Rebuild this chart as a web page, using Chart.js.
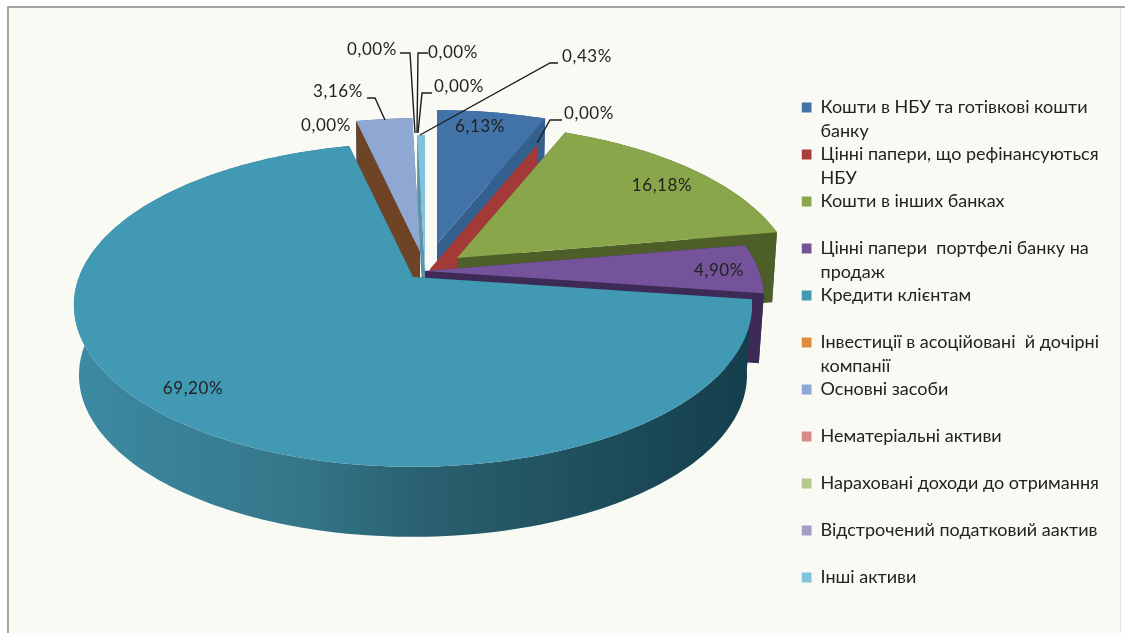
<!DOCTYPE html>
<html lang="uk">
<head>
<meta charset="UTF-8">
<title>Структура активів банку</title>
<script src="https://cdn.jsdelivr.net/npm/chart.js"></script>
<style>
    html, body { margin: 0; padding: 0; background: #fff; }
    canvas { display: block; }
</style>
</head>
<body>
<canvas id="assetsChart" width="1125" height="633"></canvas>
<script>
// chart data
var categories = [
    ['Кошти в НБУ та готівкові кошти', 'банку'],
    ['Цінні папери, що рефінансуються', 'НБУ'],
    ['Кошти в інших банках', ' '],
    ['Цінні папери  портфелі банку на', 'продаж'],
    ['Кредити клієнтам', ' '],
    ['Інвестиції в асоційовані  й дочірні', 'компанії'],
    ['Основні засоби', ' '],
    ['Нематеріальні активи', ' '],
    ['Нараховані доходи до отримання', ' '],
    ['Відстрочений податковий аактив', ' '],
    ['Інші активи', ' ']
];
var values = [6.13, 0.00, 16.18, 4.90, 69.20, 0.00, 3.16, 0.00, 0.00, 0.00, 0.43];

// slice styling
var topColors = ['#4273a8', '#a83c3a', '#8aa64b', '#74539a', '#4299b3', '#e08a3c', '#8ea8d3', '#d88a8a', '#b5c98a', '#a59cc5', '#83c2dc'];
var wallColors = ['#34608f', '#a33a38', '#4e5e28', '#3d2a56', null, '#6e4326', '#5f7396', null, null, null, '#5f94a8'];

// where each wedge's tip sits after the explode, null = nothing to draw
var tips = [[437, 244], [430, 269], [457, 258], [425, 271], [413, 277], [420, 252], [420, 252], null, null, null, [425, 269]];
var paintOrder = [10, 6, 5, 0, 1, 2, 3, 4];

// percent labels: centre of the text, then the optional leader line
var labelAt = [[480, 127], [589, 114], [662, 186], [719, 271], [193, 389], [326, 126], [338, 92], [372, 50], [453, 53], [459, 87], [587, 57]];
var leaders = {
    1: [[562, 120], [550, 120], [537, 143]],
    6: [[367, 98], [375, 98], [385, 120]],
    7: [[400, 53], [410, 53], [415, 133]],
    8: [[428, 53], [418, 53], [417, 133]],
    9: [[432, 93], [422, 93], [418, 133]],
    10: [[558, 63], [550, 63], [420, 135]]
};

// perspective of the tilted disc
var RX = 334, RY = 157, TILT = 0.173, DEPTH = 70, BOTTOM_SCALE = 0.985;

function project(tip, angle, isBottom) {
    var k = 1 / (1 - TILT * Math.sin(angle));
    var sx = isBottom ? BOTTOM_SCALE : 1;
    return [
        tip[0] + RX * sx * Math.cos(angle) * k,
        tip[1] + RY * Math.sin(angle) * k + (isBottom ? DEPTH : 0)
    ];
}

function tracePoints(ctx, pts) {
    ctx.beginPath();
    pts.forEach(function (p, n) {
        if (n === 0) ctx.moveTo(p[0], p[1]); else ctx.lineTo(p[0], p[1]);
    });
    ctx.closePath();
    ctx.fill();
}

function arcPoints(tip, start, end, isBottom) {
    var pts = [];
    var steps = Math.max(2, Math.ceil((end - start) * 40));
    for (var n = 0; n <= steps; n++) {
        pts.push(project(tip, start + (end - start) * n / steps, isBottom));
    }
    return pts;
}

function cutFace(tip, angle) {
    return [tip, project(tip, angle, false), project(tip, angle, true), [tip[0], tip[1] + DEPTH]];
}

// draws the extruded pie from the arc angles the pie controller worked out
var pie3d = {
    id: 'pie3d',
    beforeDatasetsDraw: function (chart) {
        var ctx = chart.ctx;
        var arcs = chart.getDatasetMeta(0).data;
        var tealWall = ctx.createLinearGradient(74, 0, 750, 0);
        tealWall.addColorStop(0, '#3d8aa3');
        tealWall.addColorStop(0.34, '#347688');
        tealWall.addColorStop(0.53, '#295f6e');
        tealWall.addColorStop(1, '#143e4c');

        ctx.save();
        paintOrder.forEach(function (i) {
            var tip = tips[i];
            var start = arcs[i].startAngle;
            var end = arcs[i].endAngle;
            ctx.fillStyle = wallColors[i] || tealWall;
            tracePoints(ctx, cutFace(tip, start));
            if (end > start) {
                tracePoints(ctx, cutFace(tip, end));
                tracePoints(ctx, arcPoints(tip, start, end, false).concat(arcPoints(tip, start, end, true).reverse()));
                ctx.fillStyle = topColors[i];
                tracePoints(ctx, [tip].concat(arcPoints(tip, start, end, false)));
            }
        });
        ctx.restore();
        return false;
    },
    // returning false above also skips afterDatasetsDraw, so the labels go here
    afterDraw: function (chart) {
        var ctx = chart.ctx;
        ctx.save();
        ctx.strokeStyle = '#1c1c1c';
        ctx.lineWidth = 1.4;
        Object.keys(leaders).forEach(function (i) {
            ctx.beginPath();
            leaders[i].forEach(function (p, n) {
                if (n === 0) ctx.moveTo(p[0], p[1]); else ctx.lineTo(p[0], p[1]);
            });
            ctx.stroke();
        });
        ctx.fillStyle = '#222';
        ctx.font = '17px Lato';
        ctx.letterSpacing = '0.6px';
        ctx.textAlign = 'center';
        ctx.textBaseline = 'middle';
        values.forEach(function (v, i) {
            ctx.fillText(v.toFixed(2).replace('.', ',') + '%', labelAt[i][0], labelAt[i][1]);
        });
        ctx.restore();
    }
};

// page background and thin frame
var frame = {
    id: 'frame',
    beforeDraw: function (chart) {
        var ctx = chart.ctx;
        ctx.save();
        ctx.fillStyle = '#fafaf5';
        ctx.fillRect(8, 7, 1112, 626);
        ctx.strokeStyle = '#a4a4a0';
        ctx.lineWidth = 2;
        ctx.beginPath();
        ctx.moveTo(8, 633);
        ctx.lineTo(8, 7);
        ctx.lineTo(1125, 7);
        ctx.stroke();
        ctx.strokeStyle = '#e6e6e2';
        ctx.lineWidth = 1;
        ctx.beginPath();
        ctx.moveTo(1120.5, 8);
        ctx.lineTo(1120.5, 633);
        ctx.stroke();
        ctx.restore();
    }
};

new Chart(document.getElementById('assetsChart'), {
    type: 'pie',
    data: {
        labels: categories,
        datasets: [{
            data: values,
            backgroundColor: topColors,
            borderWidth: 0
        }]
    },
    options: {
        responsive: false,
        animation: false,
        layout: { padding: { right: 16, top: 81, bottom: 0 } },
        plugins: {
            tooltip: { enabled: false },
            legend: {
                position: 'right',
                labels: {
                    boxWidth: 10,
                    boxHeight: 10,
                    padding: 0,
                    color: '#222',
                    font: { family: 'Lato', size: 18, lineHeight: 1.306 }
                }
            }
        }
    },
    plugins: [frame, pie3d]
});
</script>
</body>
</html>
